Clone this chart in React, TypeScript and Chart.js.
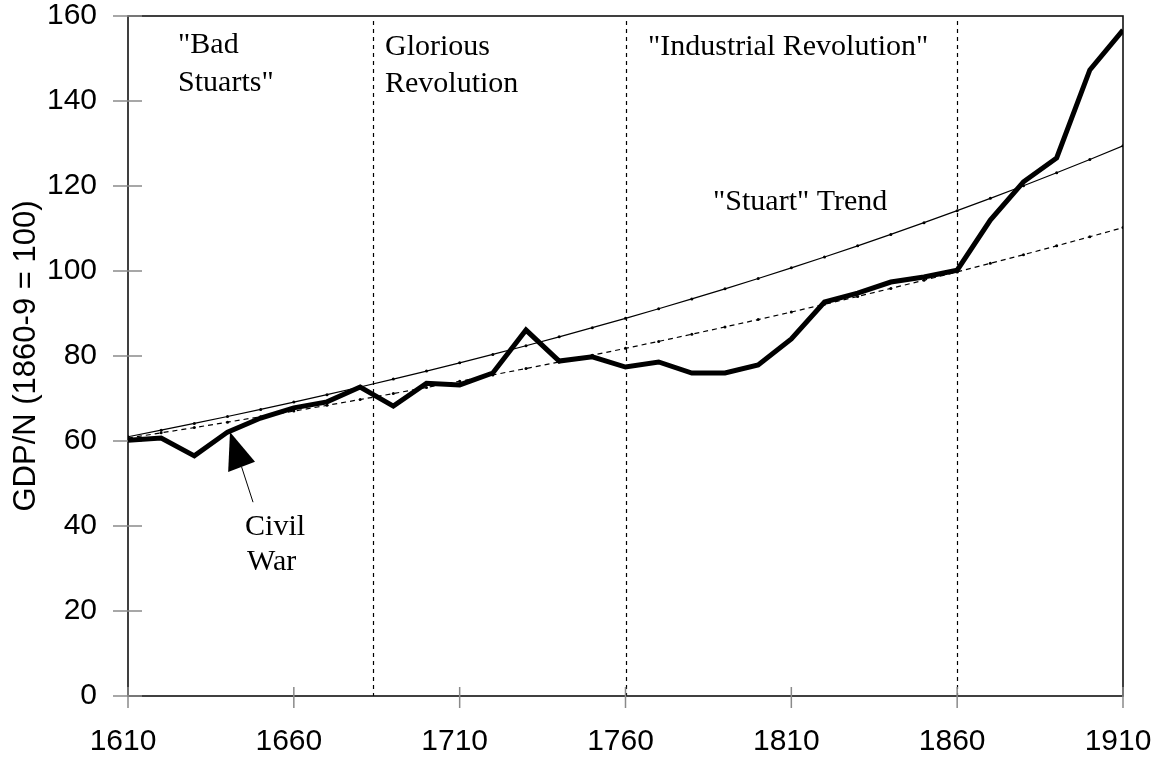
import React, { useEffect, useRef } from "react";
import { Chart, registerables } from "chart.js";

Chart.register(...registerables);

// ---- Data ----
const years = [
  1610, 1620, 1630, 1640, 1650, 1660, 1670, 1680, 1690, 1700, 1710,
  1720, 1730, 1740, 1750, 1760, 1770, 1780, 1790, 1800, 1810,
  1820, 1830, 1840, 1850, 1860, 1870, 1880, 1890, 1900, 1910,
];

const gdpPerHead = [
  60.2, 60.7, 56.5, 62.1, 65.4, 67.8, 69.2, 72.7, 68.2, 73.6, 73.2,
  76.0, 86.1, 78.8, 79.8, 77.4, 78.6, 76.0, 76.0, 77.9, 84.0,
  92.7, 94.8, 97.4, 98.6, 100.2, 112.0, 121.0, 126.6, 147.3, 156.7,
];

const stuartTrend = [
  61.0, 62.55, 64.14, 65.77, 67.44, 69.15, 70.91, 72.71, 74.56, 76.45, 78.39,
  80.38, 82.42, 84.51, 86.66, 88.86, 91.12, 93.43, 95.81, 98.24, 100.74,
  103.3, 105.92, 108.61, 111.37, 114.2, 117.1, 120.07, 123.12, 126.25, 129.46,
];

const lowerTrend = [
  60.7, 61.92, 63.16, 64.43, 65.72, 67.04, 68.39, 69.76, 71.16, 72.59, 74.05,
  75.54, 77.06, 78.61, 80.19, 81.8, 83.44, 85.12, 86.83, 88.57, 90.35,
  92.16, 94.01, 95.9, 97.83, 99.79, 101.8, 103.84, 105.92, 108.05, 110.22,
];

const xTickValues = [1610, 1660, 1710, 1760, 1810, 1860, 1910];
const yTickValues = [0, 20, 40, 60, 80, 100, 120, 140, 160];
const dividerYears = [1684, 1760, 1860];

const yAxisTitle = "GDP/N (1860-9 = 100)";

// annotation texts anchored in data coordinates (year, value at baseline)
const labelTexts = [
  '"Bad', 'Stuarts"', "Glorious", "Revolution",
  '"Industrial Revolution"', '"Stuart" Trend', "Civil", "War",
];
const labelYears = [1625.1, 1625.1, 1687.5, 1687.5, 1766.8, 1786.4, 1645.3, 1645.9];
const labelValues = [151.3, 142.4, 150.8, 142.1, 150.8, 114.4, 37.9, 29.6];

// Civil War arrow: tip, base left, base right, tail end (year, value)
const arrowYears = [1640.75, 1640.2, 1648.3, 1647.7];
const arrowValues = [62.1, 52.7, 55.1, 45.6];

const toPoints = (vals: number[]) => years.map((y, i) => ({ x: y, y: vals[i] }));

const decorPlugin = {
  id: "decor",
  beforeDatasetsDraw(chart: any) {
    const { ctx, chartArea: a, scales } = chart;
    const xs = scales.x;
    const ys = scales.y;
    ctx.save();
    // divider lines
    ctx.strokeStyle = "#000";
    ctx.lineWidth = 1.2;
    ctx.setLineDash([4, 4]);
    dividerYears.forEach((yr) => {
      const px = Math.round(xs.getPixelForValue(yr)) + 0.5;
      ctx.beginPath();
      ctx.moveTo(px, a.top + 5);
      ctx.lineTo(px, a.bottom);
      ctx.stroke();
    });
    ctx.setLineDash([]);
    // frame
    ctx.strokeStyle = "#111";
    ctx.lineWidth = 1.6;
    ctx.strokeRect(a.left, a.top, a.right - a.left, a.bottom - a.top);
    // tick crosses
    ctx.strokeStyle = "#8a8a8a";
    ctx.lineWidth = 1.5;
    yTickValues.forEach((v) => {
      const py = ys.getPixelForValue(v);
      ctx.beginPath();
      ctx.moveTo(a.left - 15, py);
      ctx.lineTo(a.left + 14, py);
      ctx.stroke();
    });
    xTickValues.forEach((v) => {
      const px = xs.getPixelForValue(v);
      ctx.beginPath();
      ctx.moveTo(px, a.bottom - 9);
      ctx.lineTo(px, a.bottom + 12);
      ctx.stroke();
    });
    ctx.restore();
  },
  afterDraw(chart: any) {
    const { ctx, scales } = chart;
    const xs = scales.x;
    const ys = scales.y;
    ctx.save();
    ctx.fillStyle = "#000";
    ctx.font = '30px "Liberation Serif", "Times New Roman", serif';
    ctx.textAlign = "left";
    ctx.textBaseline = "alphabetic";
    labelTexts.forEach((t, i) => {
      ctx.fillText(t, xs.getPixelForValue(labelYears[i]), ys.getPixelForValue(labelValues[i]));
    });
    const P = arrowYears.map((yr, i) => [xs.getPixelForValue(yr), ys.getPixelForValue(arrowValues[i])]);
    ctx.beginPath();
    ctx.moveTo(P[0][0], P[0][1]);
    ctx.lineTo(P[1][0], P[1][1]);
    ctx.lineTo(P[2][0], P[2][1]);
    ctx.closePath();
    ctx.fill();
    ctx.strokeStyle = "#000";
    ctx.lineWidth = 1;
    ctx.beginPath();
    ctx.moveTo((P[1][0] + P[2][0]) / 2, (P[1][1] + P[2][1]) / 2);
    ctx.lineTo(P[3][0], P[3][1]);
    ctx.stroke();
    ctx.restore();
  },
};

export default function App() {
  const canvasRef = useRef<HTMLCanvasElement | null>(null);

  useEffect(() => {
    if (!canvasRef.current) return;
    const sansFont = { family: '"Liberation Sans", Arial, sans-serif', size: 30 };
    const chart = new Chart(canvasRef.current, {
      type: "line",
      data: {
        datasets: [
          {
            label: "GDP/N",
            data: toPoints(gdpPerHead),
            borderColor: "#000",
            borderWidth: 5,
            pointRadius: 0,
            tension: 0,
          },
          {
            label: '"Stuart" Trend',
            data: toPoints(stuartTrend),
            borderColor: "#000",
            borderWidth: 1.2,
            pointRadius: 1.5,
            pointBackgroundColor: "#000",
            pointBorderWidth: 0,
            tension: 0,
          },
          {
            label: "Trend",
            data: toPoints(lowerTrend),
            borderColor: "#000",
            borderWidth: 1.2,
            borderDash: [5, 4],
            pointRadius: 1.5,
            pointBackgroundColor: "#000",
            pointBorderWidth: 0,
            tension: 0,
          },
        ],
      },
      options: {
        responsive: false,
        animation: false,
        devicePixelRatio: 1,
        layout: { padding: { left: 0, top: 16, right: 30, bottom: 0 } },
        plugins: {
          legend: { display: false },
          tooltip: { enabled: false },
        },
        scales: {
          x: {
            type: "linear",
            min: 1610,
            max: 1910,
            grid: { display: false, drawTicks: false },
            border: { display: false },
            afterBuildTicks: (s: any) => {
              s.ticks = xTickValues.map((v) => ({ value: v }));
            },
            afterFit: (s: any) => {
              s.height = 65;
              s.paddingLeft = 0;
              s.paddingRight = 0;
            },
            ticks: {
              color: "#000",
              font: sansFont,
              padding: 28,
              labelOffset: -5,
              maxRotation: 0,
              autoSkip: false,
              callback: (v: any) => String(v),
            },
          },
          y: {
            type: "linear",
            min: 0,
            max: 160,
            grid: { display: false, drawTicks: false },
            border: { display: false },
            afterBuildTicks: (s: any) => {
              s.ticks = yTickValues.map((v) => ({ value: v }));
            },
            afterFit: (s: any) => {
              s.width = 128;
              s.paddingTop = 0;
              s.paddingBottom = 0;
            },
            ticks: {
              color: "#000",
              font: sansFont,
              padding: 31,
              autoSkip: false,
              callback: (v: any) => String(v),
            },
            title: {
              display: true,
              text: yAxisTitle,
              color: "#000",
              font: { family: '"Liberation Sans", Arial, sans-serif', size: 31 },
              padding: { top: 8, bottom: 0 },
            },
          },
        },
      },
      plugins: [decorPlugin],
    });
    return () => chart.destroy();
  }, []);

  return (
    <div style={{ position: "fixed", left: 0, top: 0, width: 1153, height: 761, background: "#fff" }}>
      <canvas ref={canvasRef} width={1153} height={761} />
    </div>
  );
}
